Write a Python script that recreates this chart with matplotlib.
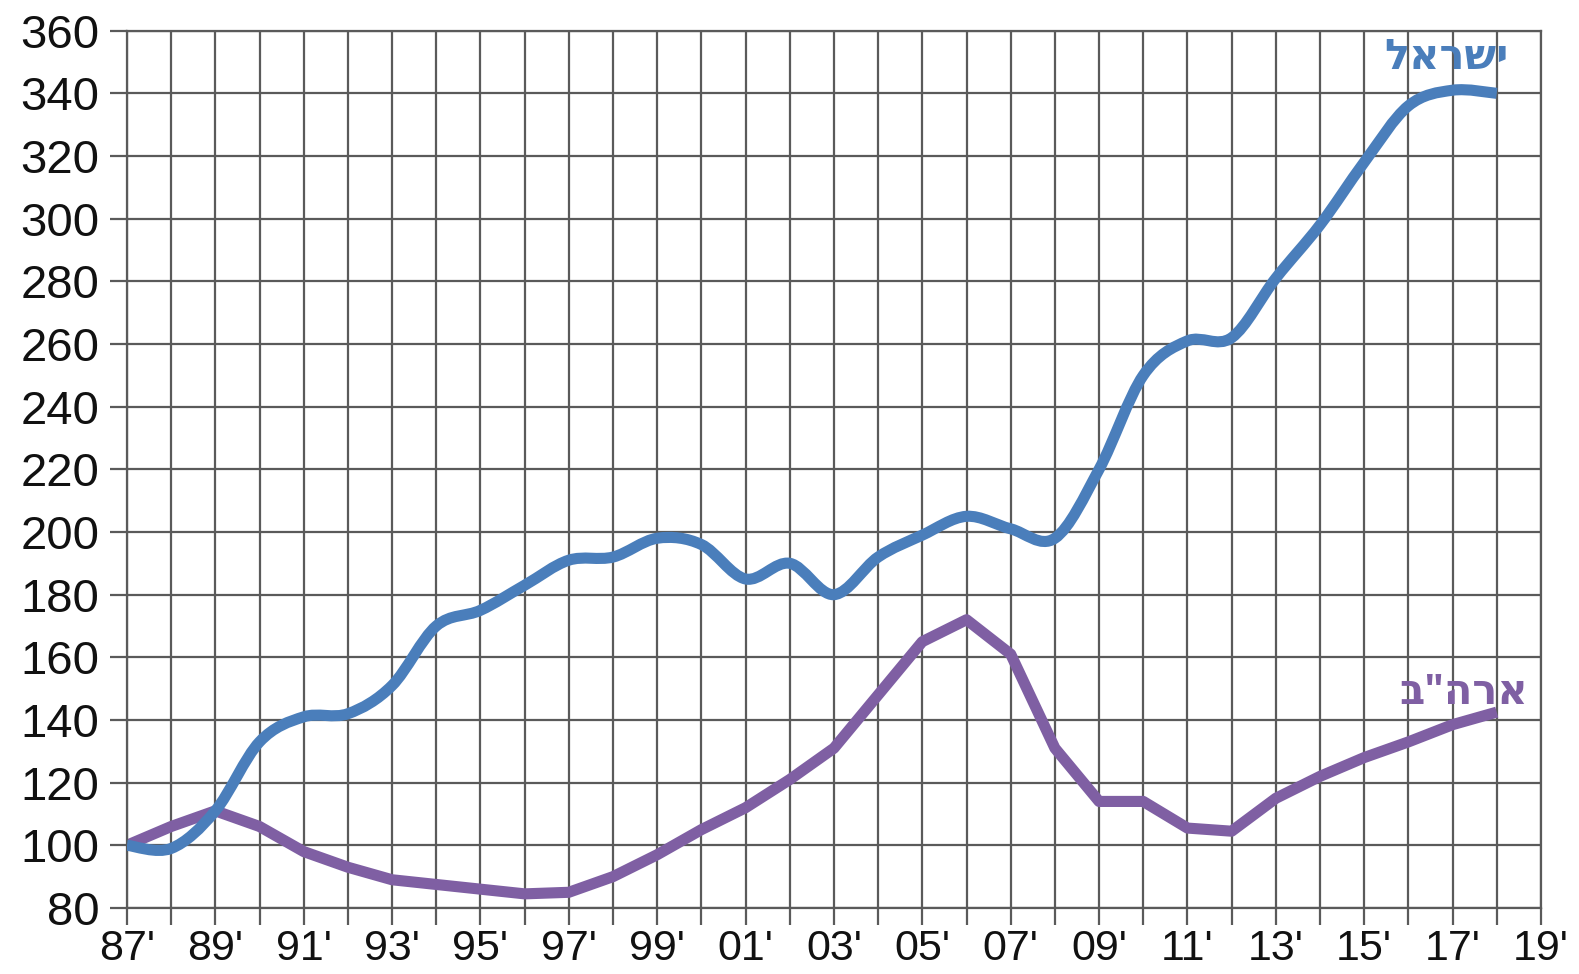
import matplotlib
matplotlib.use('Agg')
import matplotlib.pyplot as plt
import numpy as np
from matplotlib.path import Path
from matplotlib.patches import PathPatch

years = list(range(1987, 2019))
israel = [100, 99, 111, 133, 141, 142, 151, 170, 175, 183, 191, 192, 198, 196,
          185, 190, 180, 192, 199, 205, 201, 198, 220, 250, 261, 262, 281, 298,
          318, 336, 341, 340]
usa = [100, 106, 111, 106, 98, 93, 89, 87.5, 86, 84.5, 85, 90, 97, 105,
       112, 121, 131, 148, 165, 172, 161, 131, 114, 114, 105.5, 104.5, 115, 122,
       128, 133, 138.5, 142.5]
all_years = list(range(1987, 2020))
x_labels = ["%02d'" % (y % 100) if (y - 1987) % 2 == 0 else '' for y in all_years]
y_ticks = list(range(80, 361, 20))

BLUE = '#4a7ebb'
PURPLE = '#7f5fa3'
GRID = '#5a5a5a'
HEB_FONT = ['Open Sans', 'DejaVu Sans']


def smooth_path(xs, ys):
    """Excel-like smoothed line: Catmull-Rom segments as cubic Beziers."""
    pts = np.column_stack([xs, ys]).astype(float)
    n = len(pts)
    verts = [pts[0]]
    codes = [Path.MOVETO]
    for i in range(n - 1):
        p0 = pts[i - 1] if i > 0 else pts[i]
        p1, p2 = pts[i], pts[i + 1]
        p3 = pts[i + 2] if i + 2 < n else pts[i + 1]
        verts += [p1 + (p2 - p0) / 6, p2 - (p3 - p1) / 6, p2]
        codes += [Path.CURVE4] * 3
    return Path(verts, codes)


fig = plt.figure(figsize=(15.79, 9.74), dpi=100)
ax = fig.add_axes([0.0804, 0.0678, 0.8955, 0.9007])

ax.set_xlim(1987, 2019)
ax.set_ylim(80, 360)
ax.set_xticks(all_years)
ax.set_xticklabels(x_labels)
ax.set_yticks(y_ticks)
ax.grid(True, color=GRID, linewidth=1.6)
ax.set_axisbelow(True)
for s in ax.spines.values():
    s.set_color(GRID)
    s.set_linewidth(1.6)
ax.tick_params(axis='both', color=GRID, width=1.6, length=12, direction='out')
ax.tick_params(axis='y', labelsize=34, pad=8)
ax.tick_params(axis='x', labelsize=31, pad=3)
for lbl in ax.get_yticklabels() + ax.get_xticklabels():
    lbl.set_family(['Liberation Sans', 'DejaVu Sans'])
    lbl.set_color('#111111')
for lbl in ax.get_xticklabels():
    lbl.set_family(['Liberation Sans Narrow', 'Liberation Sans'])

# Israel: smoothed line, USA: straight segments
ax.add_patch(PathPatch(smooth_path(years, israel), fill=False,
                       edgecolor=BLUE, linewidth=8, joinstyle='round',
                       capstyle='butt', zorder=3))
ax.plot(years, usa, color=PURPLE, linewidth=8, solid_joinstyle='round',
        solid_capstyle='butt', zorder=2)

# Hebrew labels (reversed for left-to-right rendering)
ax.text(2016.85, 351, 'ישראל'[::-1], color=BLUE, fontsize=30,
        fontweight='bold', family=HEB_FONT, ha='center', va='center')
ax.text(2017.25, 148.5, 'ארה"ב'[::-1], color=PURPLE, fontsize=30,
        fontweight='bold', family=HEB_FONT, ha='center', va='center')

fig.savefig('out.png', dpi=100)
